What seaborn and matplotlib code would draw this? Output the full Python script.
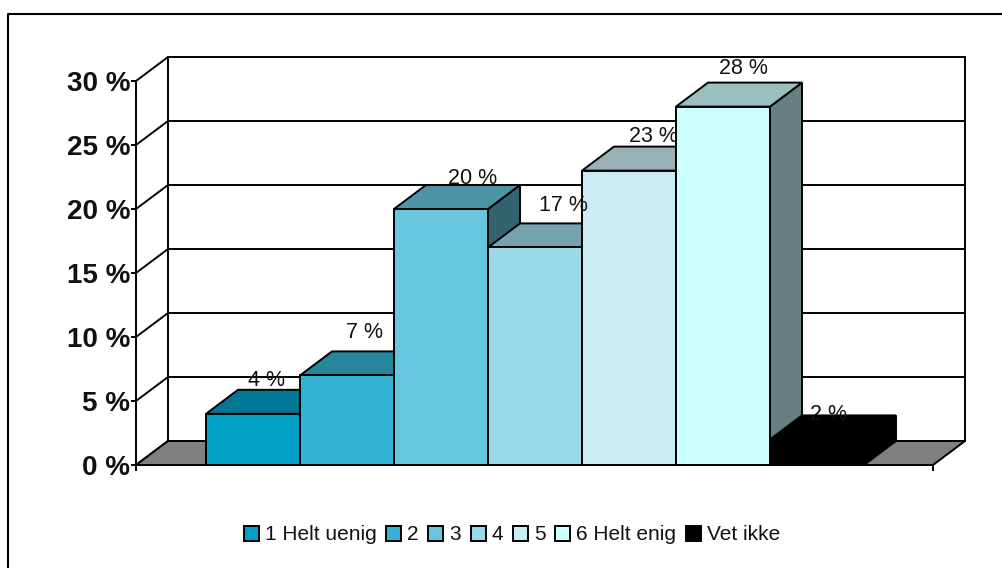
import matplotlib
matplotlib.use("Agg")
import matplotlib.pyplot as plt
from matplotlib.colors import to_rgb
from matplotlib.lines import Line2D
from matplotlib.patches import Polygon
import pandas as pd
import seaborn as sns

# ---- data ----
categories = ["1 Helt uenig", "2", "3", "4", "5", "6 Helt enig", "Vet ikke"]
values = [4, 7, 20, 17, 23, 28, 2]
y_ticks = [0, 5, 10, 15, 20, 25, 30]
colors = ["#00A0C6", "#33B3D1", "#66C6DD", "#99D9E8", "#CCECF4", "#CCFFFF", "#000000"]

# hand-placed data label nudges in the reference (pixels right of the bar centre / above the bar top)
label_dx_px = [14, 18, 32, 28, 24, 20, 12]
label_dy_px = [33, 43, 31, 42, 34, 38, 25]

# ---- layout (pixels of the 1003x568 picture) ----
W, H = 1003, 568
LEFT, RIGHT, BASE, TOP = 136, 933, 465, 81
FIRST_BAR_LEFT, BAR_PX = 206.0, 94.0
DEPTH_X_PX, DEPTH_Y_PX = 32.0, 24.0
EDGE = 1.4

sns.set_theme(style="white")
plt.rcParams["font.family"] = ["Liberation Sans", "DejaVu Sans"]

fig = plt.figure(figsize=(W / 100, H / 100), dpi=100, facecolor="white")
ax = fig.add_axes([LEFT / W, (H - BASE) / H, (RIGHT - LEFT) / W, (BASE - TOP) / H])
ax.patch.set_alpha(0)

df = pd.DataFrame({"category": categories, "value": values})
sns.barplot(data=df, x="category", y="value", hue="category", order=categories,
            hue_order=categories, palette=colors, dodge=False, width=1.0,
            saturation=1, edgecolor="black", linewidth=EDGE, legend=False, ax=ax)
bars = sorted([p for p in ax.patches if p.get_height() > 0], key=lambda p: p.get_x())

x_lo = -0.5 - (FIRST_BAR_LEFT - LEFT) / BAR_PX
x_hi = x_lo + (RIGHT - LEFT) / BAR_PX
ax.set_xlim(x_lo, x_hi)
ax.set_ylim(0, y_ticks[-1])
dx = DEPTH_X_PX / BAR_PX
dy = DEPTH_Y_PX * y_ticks[-1] / (BASE - TOP)


def shade(hex_color, factor):
    r, g, b = to_rgb(hex_color)
    return (r * factor, g * factor, b * factor)


# back wall, left wall, floor
for t in y_ticks:
    ax.add_line(Line2D([x_lo + dx, x_hi + dx], [t + dy, t + dy], color="black", lw=EDGE,
                       clip_on=False, zorder=1.2))
    ax.add_line(Line2D([x_lo, x_lo + dx], [t, t + dy], color="black", lw=EDGE,
                       clip_on=False, zorder=1.2))
for xb in (x_lo + dx, x_hi + dx):
    ax.add_line(Line2D([xb, xb], [dy, y_ticks[-1] + dy], color="black", lw=EDGE,
                       clip_on=False, zorder=1.2))
ax.add_patch(Polygon([(x_lo, 0), (x_hi, 0), (x_hi + dx, dy), (x_lo + dx, dy)], closed=True,
                     facecolor="#808080", edgecolor="black", lw=EDGE, clip_on=False, zorder=1.3))

# bars: side and top faces come from each seaborn bar, painted left to right
for i, (bar, col) in enumerate(zip(bars, colors)):
    x0, x1, h = bar.get_x(), bar.get_x() + bar.get_width(), bar.get_height()
    base_z = 3 + i
    ax.add_patch(Polygon([(x1, 0), (x1 + dx, dy), (x1 + dx, h + dy), (x1, h)], closed=True,
                         facecolor=shade(col, 0.5), edgecolor="black", lw=EDGE,
                         clip_on=False, zorder=base_z))
    ax.add_patch(Polygon([(x0, h), (x1, h), (x1 + dx, h + dy), (x0 + dx, h + dy)], closed=True,
                         facecolor=shade(col, 0.75), edgecolor="black", lw=EDGE,
                         clip_on=False, zorder=base_z + 0.1))
    bar.set_zorder(base_z + 0.2)
    ax.annotate(f"{values[i]} %", xy=((x0 + x1) / 2, h),
                xytext=(label_dx_px[i] * 0.72, label_dy_px[i] * 0.72), textcoords="offset points",
                ha="center", va="center", fontsize=15.5, color="#111111", zorder=50,
                annotation_clip=False)

# axes
for side in ("top", "right"):
    ax.spines[side].set_visible(False)
for side in ("left", "bottom"):
    ax.spines[side].set_visible(True)
    ax.spines[side].set_color("black")
    ax.spines[side].set_linewidth(EDGE)
    ax.spines[side].set_zorder(2.5)
ax.set_xlabel("")
ax.set_ylabel("")
ax.set_yticks(y_ticks, [f"{t} %" for t in y_ticks])
ax.set_xticks([x_lo, x_hi], ["", ""])
ax.tick_params(axis="y", left=True, length=3.6, width=EDGE, color="black", pad=0.5,
               labelsize=20, labelcolor="#111111")
ax.tick_params(axis="x", bottom=True, length=4.5, width=EDGE, color="black")
for lab in ax.get_yticklabels():
    lab.set_fontweight("bold")

# legend
ax.legend(handles=bars, labels=categories, ncol=len(categories), loc="center",
          bbox_to_anchor=(512 / W, 1 - 535 / H), bbox_transform=fig.transFigure,
          frameon=False, fontsize=15, labelcolor="#111111", handlelength=0.72, handleheight=0.72,
          handletextpad=0.3, columnspacing=0.45, borderpad=0, borderaxespad=0)

# chart-area border, running off the picture on the right and at the bottom
fig.add_artist(Line2D([8 / W, 8 / W, 1.0], [0.0, 1 - 14 / H, 1 - 14 / H],
                      transform=fig.transFigure, color="black", lw=1.5))

fig.savefig("out.png", dpi=100, facecolor="white")
